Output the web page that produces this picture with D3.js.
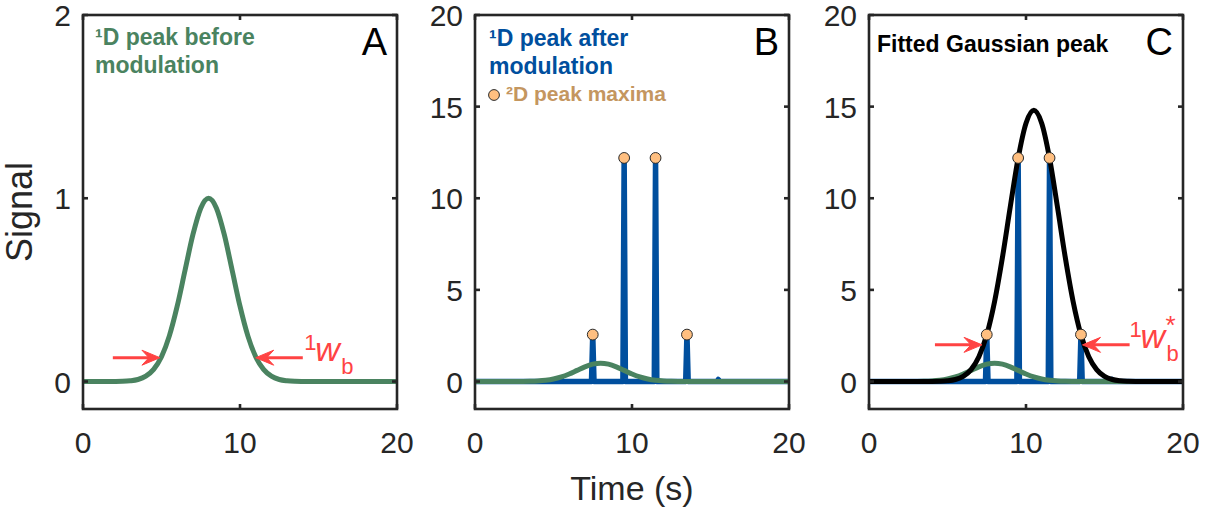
<!DOCTYPE html>
<html>
<head>
<meta charset="utf-8">
<script src="https://cdn.jsdelivr.net/npm/d3@7"></script>
<style>
  html, body { margin: 0; padding: 0; background: #ffffff; }
  svg { display: block; font-family: "Liberation Sans", Arial, Helvetica, sans-serif; }
</style>
</head>
<body>
<svg id="chart" width="1212" height="516"></svg>
<script>
// ---- data -------------------------------------------------------------
// time grid (s) on which the smooth peaks are sampled
const timeGrid = d3.range(0, 20.001, 0.5);

// 1D peak before modulation (unit height, centred at 8 s)
const firstDimPeak = [
  0, 0, 0, 0,
  0.0003, 0.0012, 0.004, 0.011, 0.029, 0.066, 0.135, 0.249, 0.411, 0.607, 0.801, 0.946,
  1.0,
  0.946, 0.801, 0.607, 0.411, 0.249, 0.135, 0.066, 0.029, 0.011, 0.004, 0.0012, 0.0003,
  0, 0, 0, 0, 0, 0, 0, 0, 0, 0, 0, 0
];

// Gaussian fitted through the 2D peak maxima
const fittedPeak = [
  0, 0, 0, 0, 0, 0, 0, 0,
  0.003, 0.013, 0.04, 0.11, 0.28, 0.65, 1.35, 2.55, 4.37, 6.78, 9.54, 12.18, 14.09,
  14.8,
  14.09, 12.18, 9.54, 6.78, 4.37, 2.55, 1.35, 0.65, 0.28, 0.11, 0.04, 0.013, 0.003,
  0, 0, 0, 0, 0, 0
];

// modulated (2D) peaks: release times (s) and heights
const modTimes   = [5.5, 7.5, 9.5, 11.5, 13.5, 15.5];
const modHeights = [0.11, 2.56, 12.2, 12.2, 2.56, 0.11];

// axis ticks
const xTicks = [0, 10, 20];
const yTicksA = [0, 1, 2];
const yTicksBC = [0, 5, 10, 15, 20];

// ---- styles -----------------------------------------------------------
const GREEN = "#4a8360";
const BLUE = "#004f9e";
const ORANGE = "#ffbf80";
const TAN = "#c4965f";
const RED = "#ff4343";
const AXIS = "#262626";
const TICK_FONT = 30;

const svg = d3.select("#chart");

const plotTop = 15, plotHeight = 394;
const panelWidth = 314;
const panels = [
  { id: "A", left: 83,  yDomain: [-0.15, 2], yTicks: yTicksA },
  { id: "B", left: 475, yDomain: [-1.5, 20], yTicks: yTicksBC },
  { id: "C", left: 869, yDomain: [-1.5, 20], yTicks: yTicksBC }
];

panels.forEach(p => {
  p.x = d3.scaleLinear().domain([0, 20]).range([p.left, p.left + panelWidth]);
  p.y = d3.scaleLinear().domain(p.yDomain).range([plotTop + plotHeight, plotTop]);
  p.g = svg.append("g").attr("class", "panel-" + p.id);
});

function curveLine(p) {
  return d3.line()
    .x((d, i) => p.x(timeGrid[i]))
    .y(d => p.y(d))
    .curve(d3.curveMonotoneX);
}

function drawGreen(p) {
  p.g.append("path")
    .datum(firstDimPeak)
    .attr("d", curveLine(p))
    .attr("fill", "none")
    .attr("stroke", GREEN)
    .attr("stroke-width", 5)
    .attr("stroke-linejoin", "round");
}

// modulated trace: baseline with a narrow spike at each release
const spikeHalf = 0.08;
const modTrace = [[0, 0]];
modTimes.forEach((t, i) => {
  modTrace.push([t - spikeHalf, 0], [t, modHeights[i]], [t + spikeHalf, 0]);
});
modTrace.push([20, 0]);

function drawBlue(p) {
  p.g.append("path")
    .datum(modTrace)
    .attr("d", d3.line().x(d => p.x(d[0])).y(d => p.y(d[1])))
    .attr("fill", "none")
    .attr("stroke", BLUE)
    .attr("stroke-width", 5.5)
    .attr("stroke-linejoin", "round");
}

function drawMaxima(p) {
  const pts = modTimes.map((t, i) => [t, modHeights[i]]).filter(d => d[1] > 1);
  p.g.selectAll("circle.maxima")
    .data(pts)
    .join("circle")
    .attr("class", "maxima")
    .attr("cx", d => p.x(d[0]))
    .attr("cy", d => p.y(d[1]))
    .attr("r", 5.4)
    .attr("fill", ORANGE)
    .attr("stroke", "#2b2b2b")
    .attr("stroke-width", 1);
}

function drawFitted(p) {
  p.g.append("path")
    .datum(fittedPeak)
    .attr("d", curveLine(p))
    .attr("fill", "none")
    .attr("stroke", "#000000")
    .attr("stroke-width", 5)
    .attr("stroke-linejoin", "round");
}

// ---- marks --------------------------------------------------------------
const [pA, pB, pC] = panels;
drawGreen(pA);

drawBlue(pB);
drawGreen(pB);
drawMaxima(pB);

drawBlue(pC);
drawGreen(pC);
drawFitted(pC);
drawMaxima(pC);

// ---- axes box with mirrored inward ticks ---------------------------------
panels.forEach(p => {
  const g = p.g.append("g").attr("class", "axes");
  const x0 = p.left, x1 = p.left + panelWidth, y0 = plotTop, y1 = plotTop + plotHeight;
  const tl = 5;

  g.append("rect")
    .attr("x", x0).attr("y", y0)
    .attr("width", panelWidth).attr("height", plotHeight)
    .attr("fill", "none").attr("stroke", AXIS).attr("stroke-width", 2.6);

  xTicks.forEach(t => {
    const xx = p.x(t);
    g.append("line").attr("x1", xx).attr("x2", xx).attr("y1", y1).attr("y2", y1 - tl)
      .attr("stroke", AXIS).attr("stroke-width", 2.6);
    g.append("line").attr("x1", xx).attr("x2", xx).attr("y1", y0).attr("y2", y0 + tl)
      .attr("stroke", AXIS).attr("stroke-width", 2.6);
    g.append("text")
      .attr("x", xx).attr("y", y1 + 44)
      .attr("text-anchor", "middle")
      .attr("font-size", TICK_FONT).attr("fill", AXIS)
      .text(t);
  });

  p.yTicks.forEach(v => {
    const yy = p.y(v);
    g.append("line").attr("x1", x0).attr("x2", x0 + tl).attr("y1", yy).attr("y2", yy)
      .attr("stroke", AXIS).attr("stroke-width", 2.6);
    g.append("line").attr("x1", x1).attr("x2", x1 - tl).attr("y1", yy).attr("y2", yy)
      .attr("stroke", AXIS).attr("stroke-width", 2.6);
    g.append("text")
      .attr("x", x0 - 12).attr("y", yy + 11)
      .attr("text-anchor", "end")
      .attr("font-size", TICK_FONT).attr("fill", AXIS)
      .text(v);
  });

  g.append("text")
    .attr("x", x1 - 10).attr("y", 55)
    .attr("text-anchor", "end")
    .attr("font-size", 38).attr("fill", "#000")
    .text(p.id);
});

// axis titles
svg.append("text")
  .attr("transform", `translate(32, ${plotTop + plotHeight / 2}) rotate(-90)`)
  .attr("text-anchor", "middle")
  .attr("font-size", 36).attr("fill", AXIS)
  .text("Signal");

svg.append("text")
  .attr("x", pB.left + panelWidth / 2).attr("y", 500)
  .attr("text-anchor", "middle")
  .attr("font-size", 34).attr("fill", AXIS)
  .text("Time (s)");

// ---- in-panel labels --------------------------------------------------------
function multiLine(g, x, y, lines, color, size) {
  const t = g.append("text").attr("x", x).attr("y", y)
    .attr("font-size", size).attr("font-weight", "bold").attr("fill", color);
  lines.forEach((s, i) => t.append("tspan").attr("x", x).attr("dy", i ? 28 : 0).text(s));
}

multiLine(pA.g, pA.left + 12, 45, ["\u00B9D peak before", "modulation"], GREEN, 23);
multiLine(pB.g, pB.left + 14, 46, ["\u00B9D peak after", "modulation"], BLUE, 23);

pB.g.append("circle")
  .attr("cx", pB.left + 19).attr("cy", 95).attr("r", 5.4)
  .attr("fill", ORANGE).attr("stroke", "#2b2b2b").attr("stroke-width", 1);
pB.g.append("text")
  .attr("x", pB.left + 31).attr("y", 101)
  .attr("font-size", 21).attr("font-weight", "bold").attr("fill", TAN)
  .text("\u00B2D peak maxima");

pC.g.append("text")
  .attr("x", pC.left + 8).attr("y", 52)
  .attr("font-size", 23).attr("font-weight", "bold").attr("fill", "#000")
  .text("Fitted Gaussian peak");

// ---- width arrows ---------------------------------------------------------
function arrow(p, tFrom, tTo, v) {
  const xa = p.x(tFrom), xb = p.x(tTo), yy = p.y(v);
  const dir = Math.sign(xb - xa);
  const g = p.g.append("g");
  g.append("line")
    .attr("x1", xa).attr("x2", xb - dir * 10).attr("y1", yy).attr("y2", yy)
    .attr("stroke", RED).attr("stroke-width", 3);
  const head = [[0, 0], [-18, -7.5], [-11, 0], [-18, 7.5]]
    .map(([dx, dy]) => [xb + dir * dx, yy + dy]);
  g.append("path")
    .attr("d", "M" + head.join("L") + "Z")
    .attr("fill", RED).attr("stroke", RED).attr("stroke-width", 1);
}

function widthLabel(p, t, v, star) {
  const g = p.g.append("g")
    .attr("transform", `translate(${p.x(t)}, ${p.y(v)})`)
    .attr("fill", RED);
  g.append("text").attr("x", 0).attr("y", -8).attr("font-size", 22).text("1");
  g.append("text").attr("x", 11).attr("y", 3).attr("font-size", 34)
    .attr("font-style", "italic").text("w");
  g.append("text").attr("x", 37).attr("y", 16).attr("font-size", 22).text("b");
  if (star) {
    g.append("text").attr("x", 36).attr("y", -11).attr("font-size", 26).text("*");
  }
}

arrow(pA, 1.9, 4.9, 0.13);
arrow(pA, 14.0, 11.0, 0.13);
widthLabel(pA, 14.1, 0.13, false);

arrow(pC, 4.2, 7.2, 2.0);
arrow(pC, 16.6, 13.6, 2.0);
widthLabel(pC, 16.6, 2.0, true);
</script>
</body>
</html>
